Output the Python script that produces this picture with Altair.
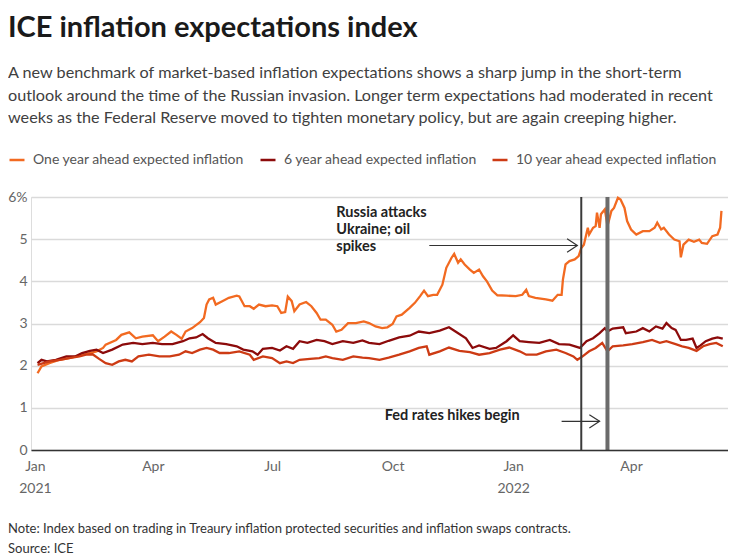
import altair as alt
import pandas as pd

# ---------------- data ----------------
one_dates = ["2021-01-03","2021-01-06","2021-01-12","2021-01-20","2021-01-27","2021-02-04","2021-02-12","2021-02-17","2021-02-22","2021-02-24",
 "2021-03-04","2021-03-08","2021-03-14","2021-03-19","2021-03-24","2021-04-01","2021-04-05","2021-04-10","2021-04-15","2021-04-19",
 "2021-04-23","2021-04-26","2021-05-01","2021-05-07","2021-05-10","2021-05-12","2021-05-14","2021-05-17","2021-05-19","2021-05-24",
 "2021-05-29","2021-06-04","2021-06-06","2021-06-10","2021-06-14","2021-06-17","2021-06-21","2021-06-26","2021-07-01","2021-07-05",
 "2021-07-08","2021-07-11","2021-07-13","2021-07-16","2021-07-18","2021-07-22","2021-07-27","2021-07-31","2021-08-04","2021-08-07",
 "2021-08-11","2021-08-16","2021-08-19","2021-08-23","2021-08-28","2021-09-03","2021-09-09","2021-09-13",
 "2021-09-18","2021-09-23","2021-09-27","2021-10-01","2021-10-04","2021-10-08","2021-10-14","2021-10-18","2021-10-22","2021-10-25","2021-10-28",
 "2021-11-01","2021-11-04","2021-11-08","2021-11-11","2021-11-15","2021-11-17","2021-11-20","2021-11-22","2021-11-25","2021-11-29",
 "2021-12-02","2021-12-06","2021-12-09","2021-12-12","2021-12-16","2021-12-20","2021-12-27",
 "2022-01-03","2022-01-08","2022-01-11","2022-01-13","2022-01-18","2022-01-26","2022-01-31",
 "2022-02-04","2022-02-07","2022-02-08","2022-02-10","2022-02-13","2022-02-17","2022-02-20","2022-02-22","2022-02-24","2022-02-27","2022-02-28",
 "2022-03-03","2022-03-05","2022-03-06","2022-03-08","2022-03-09","2022-03-12","2022-03-14","2022-03-17","2022-03-19","2022-03-22","2022-03-24","2022-03-27","2022-03-29",
 "2022-04-01","2022-04-05","2022-04-10","2022-04-15","2022-04-19","2022-04-21","2022-04-24","2022-04-26","2022-04-30",
 "2022-05-04","2022-05-08","2022-05-09","2022-05-11","2022-05-15","2022-05-19","2022-05-23","2022-05-25","2022-05-29",
 "2022-06-02","2022-06-06","2022-06-08","2022-06-09"]
one_vals = [1.82,1.98,2.06,2.14,2.18,2.24,2.30,2.34,2.42,2.50,
 2.61,2.73,2.79,2.65,2.69,2.72,2.58,2.69,2.81,2.73,
 2.64,2.81,2.89,3.03,3.13,3.45,3.57,3.61,3.45,3.53,
 3.61,3.66,3.64,3.41,3.41,3.35,3.45,3.41,3.43,3.41,
 3.25,3.27,3.64,3.53,3.29,3.45,3.51,3.41,3.25,3.09,
 3.09,2.97,2.81,2.85,3.01,3.01,3.05,3.01,
 2.93,2.89,2.91,2.99,3.17,3.21,3.37,3.49,3.65,3.78,3.65,
 3.68,3.68,3.92,4.32,4.56,4.65,4.44,4.52,4.40,4.28,
 4.20,4.28,4.12,4.00,3.78,3.67,3.66,
 3.65,3.68,3.80,3.65,3.61,3.57,3.54,
 3.68,3.68,4.04,4.40,4.48,4.52,4.60,4.79,4.87,5.27,5.11,
 5.27,5.31,5.63,5.27,5.59,5.71,5.31,5.67,5.74,5.98,5.94,5.74,5.43,
 5.23,5.11,5.19,5.19,5.27,5.39,5.23,5.27,5.11,
 4.99,4.95,4.57,4.87,4.99,4.94,4.99,4.91,4.89,
 5.07,5.11,5.27,5.67]

six_dates = ["2021-01-03","2021-01-06","2021-01-10","2021-01-17","2021-01-25","2021-02-01","2021-02-06","2021-02-12","2021-02-17","2021-02-22",
 "2021-03-01","2021-03-09","2021-03-17","2021-03-24","2021-04-01","2021-04-08","2021-04-16","2021-04-24","2021-04-29","2021-05-04",
 "2021-05-09","2021-05-13","2021-05-19","2021-05-27","2021-06-04","2021-06-09","2021-06-16","2021-06-20","2021-06-24","2021-07-01",
 "2021-07-07","2021-07-12","2021-07-17","2021-07-22","2021-07-28","2021-08-04","2021-08-10","2021-08-16","2021-08-24","2021-09-01",
 "2021-09-08","2021-09-13",
 "2021-09-21","2021-09-28","2021-10-06","2021-10-14","2021-10-21","2021-10-29","2021-11-06","2021-11-13","2021-11-18","2021-11-26",
 "2021-12-01","2021-12-06","2021-12-14","2021-12-19","2021-12-27","2022-01-01","2022-01-06","2022-01-13","2022-01-21","2022-01-29",
 "2022-02-05","2022-02-13","2022-02-21","2022-02-26","2022-03-03","2022-03-08","2022-03-12","2022-03-14","2022-03-18","2022-03-26",
 "2022-03-28","2022-04-05","2022-04-10","2022-04-15","2022-04-20","2022-04-25","2022-04-28","2022-05-02","2022-05-05","2022-05-09",
 "2022-05-13","2022-05-18","2022-05-21","2022-05-24","2022-05-28","2022-06-02","2022-06-06","2022-06-10"]
six_vals = [2.06,2.14,2.10,2.14,2.22,2.22,2.30,2.35,2.38,2.30,
 2.38,2.50,2.54,2.51,2.54,2.51,2.51,2.58,2.65,2.67,
 2.75,2.65,2.54,2.51,2.46,2.38,2.34,2.26,2.40,2.42,
 2.36,2.46,2.40,2.58,2.54,2.61,2.58,2.51,2.58,2.54,
 2.60,2.54,
 2.51,2.59,2.67,2.71,2.81,2.77,2.83,2.91,2.81,2.65,
 2.42,2.48,2.40,2.42,2.58,2.72,2.58,2.56,2.54,2.61,
 2.51,2.50,2.42,2.58,2.65,2.77,2.89,2.81,2.88,2.91,
 2.77,2.81,2.89,2.81,2.93,2.88,3.01,2.89,2.85,2.61,
 2.61,2.64,2.42,2.48,2.58,2.64,2.67,2.64]

ten_dates = ["2021-01-03","2021-01-12","2021-01-20","2021-01-27","2021-02-04","2021-02-09","2021-02-14","2021-02-19","2021-02-24","2021-03-01",
 "2021-03-06","2021-03-11","2021-03-16","2021-03-21","2021-03-29","2021-04-06","2021-04-14","2021-04-21","2021-04-26","2021-05-01",
 "2021-05-07","2021-05-12","2021-05-17","2021-05-22","2021-05-29","2021-06-06","2021-06-14","2021-06-17","2021-06-24","2021-07-01",
 "2021-07-07","2021-07-12","2021-07-17","2021-07-22","2021-07-30","2021-08-06","2021-08-11","2021-08-16","2021-08-24","2021-09-01",
 "2021-09-08","2021-09-13",
 "2021-09-21","2021-09-28","2021-10-06","2021-10-14","2021-10-21","2021-10-27","2021-10-29","2021-11-06","2021-11-13","2021-11-21",
 "2021-11-29","2021-12-06","2021-12-14","2021-12-22","2021-12-29","2022-01-06","2022-01-11","2022-01-19","2022-01-26","2022-02-03",
 "2022-02-10","2022-02-16","2022-02-19","2022-02-23","2022-02-28","2022-03-05","2022-03-10","2022-03-14","2022-03-18","2022-03-26",
 "2022-04-02","2022-04-10","2022-04-17","2022-04-23","2022-04-28","2022-05-05","2022-05-10","2022-05-15","2022-05-21","2022-05-26",
 "2022-05-31","2022-06-05","2022-06-10"]
ten_vals = [2.02,2.10,2.14,2.18,2.22,2.26,2.27,2.16,2.06,2.02,
 2.10,2.14,2.10,2.22,2.26,2.22,2.22,2.26,2.34,2.30,
 2.38,2.42,2.38,2.30,2.30,2.34,2.26,2.14,2.22,2.18,
 2.06,2.10,2.06,2.14,2.16,2.18,2.22,2.18,2.14,2.22,
 2.19,2.18,
 2.14,2.19,2.26,2.34,2.42,2.46,2.26,2.34,2.43,2.35,
 2.32,2.26,2.30,2.38,2.43,2.34,2.26,2.26,2.34,2.38,
 2.30,2.22,2.14,2.22,2.34,2.42,2.54,2.34,2.46,2.48,
 2.51,2.56,2.61,2.54,2.58,2.51,2.46,2.42,2.35,2.46,
 2.51,2.54,2.46]

series_names = ["One year ahead expected inflation",
                "6 year ahead expected inflation",
                "10 year ahead expected inflation"]
series_colors = ["#f26a21", "#8c0b0b", "#cd3b14"]

x_tick_dates = ["2021-01-01", "2021-04-01", "2021-07-01", "2021-10-01", "2022-01-01", "2022-04-01"]
x_domain = ["2020-12-29", "2022-06-14"]
y_ticks = [0, 1, 2, 3, 4, 5, 6]

invasion_date = ["2022-02-22"]
fed_hike_date = ["2022-03-14"]

title_text = "ICE inflation expectations index"
subtitle_lines = [
    "A new benchmark of market-based inflation expectations shows a sharp jump in the short-term",
    "outlook around the time of the Russian invasion. Longer term expectations had moderated in recent",
    "weeks as the Federal Reserve moved to tighten monetary policy, but are again creeping higher.",
]
note_lines = [
    "Note: Index based on trading in Treaury inflation protected securities and inflation swaps contracts.",
    "Source: ICE",
]
annot1 = {"date": ["2021-08-19"], "value": [5.52], "text": ["Russia attacks\nUkraine; oil\nspikes"]}
arrow1 = {"date": ["2021-10-29"], "date2": ["2022-02-19"], "value": [4.85]}
annot2 = {"date": ["2021-09-25"], "value": [0.70], "text": ["Fed rates hikes begin"]}
arrow2 = {"date": ["2022-02-07"], "date2": ["2022-03-08"], "value": [0.68]}

# ---------------- build ----------------
FONT = "Lato"
LEFT = -23  # left edge of the page content, relative to the plot origin


def dt(s):
    return alt.DateTime(year=int(s[:4]), month=int(s[5:7]), date=int(s[8:10]), utc=True)


frames = []
for name, d, v in zip(series_names, [one_dates, six_dates, ten_dates], [one_vals, six_vals, ten_vals]):
    frames.append(pd.DataFrame({"date": d, "value": v, "series": name}))
df = pd.concat(frames, ignore_index=True)

x_scale = alt.Scale(type="utc", domain=[dt(s) for s in x_domain])
y_scale = alt.Scale(domain=[0, 6])

x_axis = alt.Axis(
    values=[dt(s) for s in x_tick_dates],
    labelExpr="utcFormat(datum.value, '%m') == '01' ? [utcFormat(datum.value, '%b'), utcFormat(datum.value, '%Y')] : utcFormat(datum.value, '%b')",
    labelFont=FONT, labelFontSize=14, labelColor="#666666", labelPadding=9,
    labelLineHeight=22, ticks=False, grid=False, domainColor="#333333",
    domainWidth=1.5, title=None, labelFlush=False, labelOverlap=False, zindex=1,
)
y_axis = alt.Axis(
    values=y_ticks,
    labelExpr="datum.value == 6 ? '6%' : datum.label",
    labelFont=FONT, labelFontSize=14, labelColor="#666666", labelPadding=4,
    grid=True, gridColor="#dadada", gridWidth=1.5, domain=False, ticks=False,
    title=None,
)

lines = alt.Chart(df).mark_line(strokeWidth=2.3).encode(
    x=alt.X("date:T", scale=x_scale, axis=x_axis),
    y=alt.Y("value:Q", scale=y_scale, axis=y_axis),
    color=alt.Color(
        "series:N",
        scale=alt.Scale(domain=series_names, range=series_colors),
        sort=series_names,
        legend=alt.Legend(
            orient="none", legendX=LEFT, legendY=-46, direction="horizontal",
            title=None, symbolType="stroke", symbolStrokeWidth=2.5, symbolSize=225,
            labelFont=FONT, labelFontSize=14, labelColor="#555555", labelOffset=7,
            columnPadding=10, labelLimit=400,
        ),
    ),
    detail="series:N",
)

rule_invasion = alt.Chart(pd.DataFrame({"date": invasion_date})).mark_rule(
    color="#3a3a3a", strokeWidth=2
).encode(x="date:T")
rule_fed = alt.Chart(pd.DataFrame({"date": fed_hike_date})).mark_rule(
    color="#6b6b6b", strokeWidth=4
).encode(x="date:T")

annot_style = dict(align="left", baseline="alphabetic", font=FONT, fontSize=14.5,
                   fontWeight="bold", color="#222222", lineBreak="\n", lineHeight=17)
txt1 = alt.Chart(pd.DataFrame(annot1)).mark_text(**annot_style).encode(
    x="date:T", y="value:Q", text="text:N")
txt2 = alt.Chart(pd.DataFrame(annot2)).mark_text(**annot_style).encode(
    x="date:T", y="value:Q", text="text:N")

arrow_shape = "M-1,-0.65L0,0L-1,0.65"
a1 = alt.Chart(pd.DataFrame(arrow1))
a1_line = a1.mark_rule(color="#333333", strokeWidth=1.2).encode(x="date:T", x2="date2:T", y="value:Q")
a1_head = a1.mark_point(shape=arrow_shape, filled=False, color="#333333", strokeWidth=1.2, size=420, opacity=1).encode(
    x="date2:T", y="value:Q")
a2 = alt.Chart(pd.DataFrame(arrow2))
a2_line = a2.mark_rule(color="#333333", strokeWidth=1.2).encode(x="date:T", x2="date2:T", y="value:Q")
a2_head = a2.mark_point(shape=arrow_shape, filled=False, color="#333333", strokeWidth=1.2, size=420, opacity=1).encode(
    x="date2:T", y="value:Q")

one = pd.DataFrame({"k": [0]})
title_mark = alt.Chart(one).mark_text(
    align="left", baseline="alphabetic", font=FONT, fontSize=29, fontWeight="bold", color="#1a1a1a"
).encode(x=alt.value(LEFT), y=alt.value(-160), text=alt.value(title_text))
subtitle_mark = alt.Chart(one).mark_text(
    align="left", baseline="alphabetic", font=FONT, fontSize=16.2, color="#404040",
    lineBreak="\n", lineHeight=22.5
).encode(x=alt.value(LEFT), y=alt.value(-119), text=alt.value("\n".join(subtitle_lines)))
note_mark = alt.Chart(one).mark_text(
    align="left", baseline="alphabetic", font=FONT, fontSize=13, color="#333333",
    lineBreak="\n", lineHeight=19.5
).encode(x=alt.value(LEFT), y=alt.value(336), text=alt.value("\n".join(note_lines)))

chart = alt.layer(
    lines, rule_invasion, rule_fed, txt1, txt2, a1_line, a1_head, a2_line, a2_head,
    title_mark, subtitle_mark, note_mark,
).properties(
    width=697, height=253,
    padding={"left": 23, "top": 189, "right": 0, "bottom": 108},
    autosize=alt.AutoSizeParams(type="none"),
).configure_view(stroke=None).configure(font=FONT)

chart.save("out.html", embed_options={"renderer": "svg", "actions": False})
